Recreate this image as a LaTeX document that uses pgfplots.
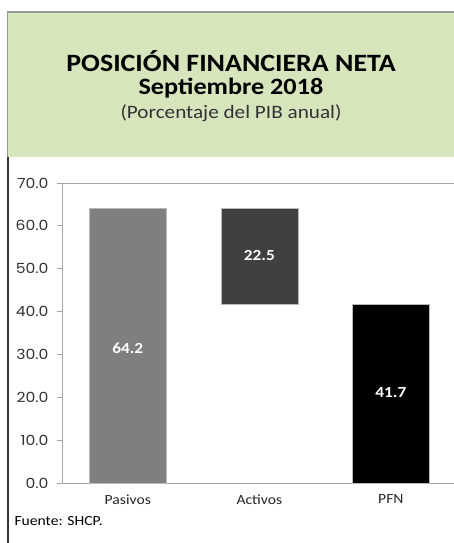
\documentclass[border=0pt]{standalone}
\usepackage{pgfplots}
\pgfplotsset{compat=1.18}
\usepackage{fontspec}
\setmainfont{Carlito}[FakeStretch=1.12]
\newfontfamily\tickfont{Poppins}[FakeStretch=1.12]

\definecolor{titlegreen}{HTML}{D8E4BC}
\definecolor{pasivos}{HTML}{7F7F7F}
\definecolor{activos}{HTML}{404040}
\definecolor{axgray}{HTML}{A6A6A6}

\begin{document}
\begin{tikzpicture}
  \useasboundingbox (0bp,0bp) rectangle (454bp,543bp);
  % header box
  \fill[titlegreen] (7bp,386bp) rectangle (454bp,531bp);
  \draw[gray!80, line width=1.2bp] (7bp,531bp) -- (454bp,531bp);
  \draw[gray!80, line width=1bp] (7.5bp,531bp) -- (7.5bp,386bp);
  \draw[black!80, line width=1.6bp] (8bp,386bp) -- (8bp,0bp);
  \node[font=\fontsize{25}{30}\selectfont\bfseries, inner sep=0pt, anchor=base] at (231bp,471bp) {POSICIÓN FINANCIERA NETA};
  \node[font=\fontsize{23.5}{27}\selectfont\bfseries, inner sep=0pt, anchor=base] at (231bp,448bp) {Septiembre 2018};
  \node[font=\fontsize{19}{22}\selectfont, text=black!80, inner sep=0pt, anchor=base] at (231bp,424bp) {(Porcentaje del PIB anual)};
  \node[font=\fontsize{14}{17}\selectfont, anchor=west] at (11bp,22bp) {Fuente: SHCP.};

  \begin{axis}[
    at={(62bp,60bp)}, anchor=south west,
    scale only axis,
    width=392bp, height=300bp,
    ybar stacked,
    bar width=0.585,
    xmin=-0.5, xmax=2.48,
    ymin=0, ymax=70,
    axis lines=left,
    axis line style={-, axgray, line width=0.9bp},
    ytick={0,10,...,70},
    yticklabel style={font=\tickfont\fontsize{14}{16}\selectfont, text=black!80,
      xshift=-5bp,
      /pgf/number format/fixed, /pgf/number format/fixed zerofill,
      /pgf/number format/precision=1, /pgf/number format/assume math mode=true},
    ytick style={axgray, line width=0.9bp},
    extra y ticks={70}, extra y tick labels={},
    extra y tick style={grid=major, major grid style={axgray, line width=0.9bp}},
    xtick={0,1,2},
    xticklabels={Pasivos, Activos, PFN},
    xticklabel style={font=\fontsize{14}{17}\selectfont, text=black!85, yshift=-3bp},
    xtick style={draw=none},
    minor xtick={0.5,1.5},
    minor x tick style={axgray, line width=0.9bp},
    tick align=outside,
    major tick length=5bp, minor tick length=6bp,
    clip=false,
  ]
    % invisible base for the floating bar
    \addplot[draw=none, fill=none] coordinates {(0,0) (1,41.7) (2,0)};
    \addplot[draw=gray!55, fill=pasivos] coordinates {(0,64.2) (1,0) (2,0)};
    \addplot[draw=gray!55, fill=activos] coordinates {(0,0) (1,22.5) (2,0)};
    \addplot[draw=gray!55, fill=black] coordinates {(0,0) (1,0) (2,41.7)};
    \coordinate (l1) at (axis cs:0,31.5);
    \coordinate (l2) at (axis cs:1,53.0);
    \coordinate (l3) at (axis cs:2,21.2);
  \end{axis}
  \begin{scope}[every node/.style={text=white, font=\fontsize{15.5}{18}\selectfont\bfseries}]
    \node at (l1) {64.2};
    \node at (l2) {22.5};
    \node at (l3) {41.7};
  \end{scope}
\end{tikzpicture}
\end{document}
